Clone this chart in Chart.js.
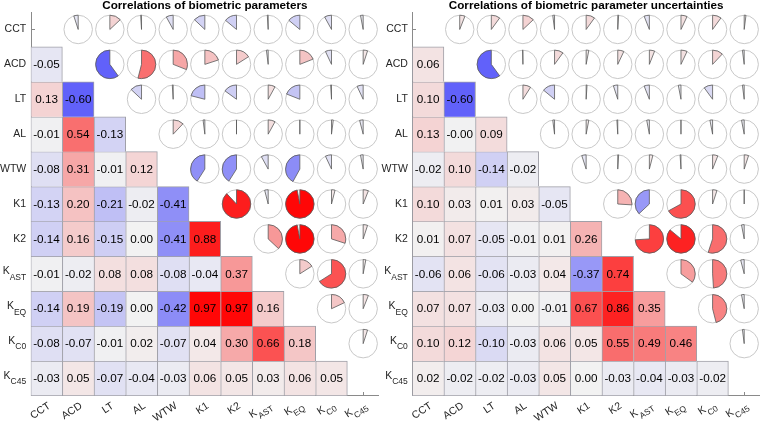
<!DOCTYPE html>
<html><head><meta charset="utf-8">
<script src="https://cdn.jsdelivr.net/npm/chart.js@4/dist/chart.umd.min.js"></script>
<style>
html,body{margin:0;padding:0;background:#fff;}
#wrap{position:relative;width:760px;height:424px;overflow:hidden;}
canvas{position:absolute;top:0;}
</style></head><body>
<div id="wrap">
<canvas id="c1" width="380" height="424" style="left:0px"></canvas>
<canvas id="c2" width="380" height="424" style="left:380px"></canvas>
</div>
<script>
// Parameter names (underscore marks a subscript)
const params = ['CCT','ACD','LT','AL','WTW','K1','K2','K_AST','K_EQ','K_C0','K_C45'];

// Lower-triangle correlation rows (row i holds columns 0..i-1)
const corrBiometric = [
  [],
  [-0.05],
  [0.13, -0.60],
  [-0.01, 0.54, -0.13],
  [-0.08, 0.31, -0.01, 0.12],
  [-0.13, 0.20, -0.21, -0.02, -0.41],
  [-0.14, 0.16, -0.15, 0.00, -0.41, 0.88],
  [-0.01, -0.02, 0.08, 0.08, -0.08, -0.04, 0.37],
  [-0.14, 0.19, -0.19, 0.00, -0.42, 0.97, 0.97, 0.16],
  [-0.08, -0.07, -0.01, 0.02, -0.07, 0.04, 0.30, 0.66, 0.18],
  [-0.03, 0.05, -0.07, -0.04, -0.03, 0.06, 0.05, 0.03, 0.06, 0.05]
];
const corrUncertainty = [
  [],
  [0.06],
  [0.10, -0.60],
  [0.13, -0.004, 0.09],
  [-0.02, 0.10, -0.14, -0.02],
  [0.10, 0.03, 0.01, 0.03, -0.05],
  [0.01, 0.07, -0.05, -0.01, 0.01, 0.26],
  [-0.06, 0.06, -0.06, -0.03, 0.04, -0.37, 0.74],
  [0.07, 0.07, -0.03, 0.00, -0.01, 0.67, 0.86, 0.35],
  [0.10, 0.12, -0.10, -0.03, 0.06, 0.05, 0.55, 0.49, 0.46],
  [0.02, -0.02, -0.02, -0.03, 0.05, 0.00, -0.03, -0.04, -0.03, -0.02]
];
const titles = ['Correlations of biometric parameters', 'Correlations of biometric parameter uncertainties'];

const FONT = "'Liberation Sans', Arial, Helvetica, sans-serif";

function colorFor(r){
  const t = Math.min(1, Math.abs(r)), g = 242;
  const hi = Math.round(g + (255-g)*t), lo = Math.round(g*(1-t));
  return r >= 0 ? `rgb(${hi},${lo},${lo})` : `rgb(${lo},${lo},${hi})`;
}
function corrAt(M,i,j){ return i>j ? M[i][j] : M[j][i]; }

function drawLabel(ctx, name, x, y, align){
  const parts = name.split('_');
  ctx.font = `10.5px ${FONT}`;
  const wMain = ctx.measureText(parts[0]).width;
  let wSub = 0;
  if(parts[1]){ ctx.font = `8.5px ${FONT}`; wSub = ctx.measureText(parts[1]).width; }
  const W = wMain + wSub;
  const x0 = align === 'right' ? x - W : x - W/2;
  ctx.textAlign = 'left'; ctx.textBaseline = 'middle';
  ctx.font = `10.5px ${FONT}`;
  ctx.fillText(parts[0], x0, parts[1] ? y - 2.5 : y);
  if(parts[1]){ ctx.font = `8.5px ${FONT}`; ctx.fillText(parts[1], x0 + wMain, y + 3.5); }
}

function makePlugin(M){
  return {
    id: 'corrDecor',
    beforeDatasetsDraw(chart){
      const {ctx, chartArea:a, scales:{x, y}} = chart;
      ctx.save();
      ctx.strokeStyle = '#8a8a8a'; ctx.lineWidth = 1;
      const lx = Math.round(a.left)+0.5, by = Math.round(a.bottom)-0.5;
      ctx.beginPath();
      ctx.moveTo(lx, a.top); ctx.lineTo(lx, by);
      ctx.lineTo(a.right, by);
      for(let i=0;i<params.length;i++){
        const py = Math.round(y.getPixelForValue(i))+0.5;
        ctx.moveTo(lx, py); ctx.lineTo(lx+3.5, py);
        const px = Math.round(x.getPixelForValue(i))+0.5;
        ctx.moveTo(px, by); ctx.lineTo(px, by-3.5);
      }
      ctx.stroke();
      ctx.restore();
    },
    afterDatasetsDraw(chart){
      const {ctx, chartArea:a, scales:{x, y}} = chart;
      const n = params.length;
      ctx.save();
      // values in cells
      ctx.fillStyle = '#000';
      ctx.font = `11.7px ${FONT}`;
      ctx.textAlign = 'center'; ctx.textBaseline = 'middle';
      for(let i=1;i<n;i++) for(let j=0;j<i;j++){
        ctx.fillText(M[i][j].toFixed(2), x.getPixelForValue(j), y.getPixelForValue(i)+0.5);
      }
      // pies in the upper triangle
      const colW = Math.abs(x.getPixelForValue(1) - x.getPixelForValue(0));
      const R = colW*0.45;
      for(let i=0;i<n;i++) for(let j=i+1;j<n;j++){
        const r = corrAt(M,i,j);
        const cx = x.getPixelForValue(j), cy = y.getPixelForValue(i);
        ctx.beginPath(); ctx.arc(cx, cy, R, 0, Math.PI*2);
        ctx.fillStyle = '#fff'; ctx.fill();
        ctx.strokeStyle = '#c8c8c8'; ctx.lineWidth = 1; ctx.stroke();
        const a0 = -Math.PI/2, a1 = a0 + (r>=0 ? 1 : -1)*2*Math.PI*Math.abs(r);
        ctx.beginPath(); ctx.moveTo(cx, cy); ctx.lineTo(cx, cy-R);
        ctx.arc(cx, cy, R, a0, a1, r<0); ctx.closePath();
        ctx.fillStyle = colorFor(r); ctx.fill();
        ctx.strokeStyle = '#5a5a5a'; ctx.lineWidth = 0.8; ctx.stroke();
      }
      // axis labels
      ctx.fillStyle = '#262626';
      for(let i=0;i<n;i++) drawLabel(ctx, params[i], a.left-4.5, y.getPixelForValue(i), 'right');
      for(let j=0;j<n;j++){
        ctx.save();
        ctx.translate(x.getPixelForValue(j)+3, a.bottom+9);
        ctx.rotate(-33*Math.PI/180);
        drawLabel(ctx, params[j], 0, 0, 'right');
        ctx.restore();
      }
      ctx.restore();
    }
  };
}

function makeChart(id, M, title, padL, padR){
  const n = params.length;
  const datasets = [];
  for(let i=1;i<n;i++){
    const data = [], bg = [];
    for(let j=0;j<n;j++){
      if(j<i){ data.push([i-0.5, i+0.5]); bg.push(colorFor(M[i][j])); }
      else { data.push(null); bg.push('rgba(0,0,0,0)'); }
    }
    datasets.push({
      label: params[i], data, backgroundColor: bg, borderColor: '#a0a0a8',
      borderWidth: (c) => ({left:1, top:1, right: c.dataIndex===i-1 ? 1 : 0, bottom: i===n-1 ? 1 : 0}),
      borderSkipped: false, grouped: false, categoryPercentage: 1, barPercentage: 1
    });
  }
  return new Chart(document.getElementById(id), {
    type: 'bar',
    data: { labels: params, datasets },
    options: {
      responsive: false, animation: false, devicePixelRatio: 1,
      layout: { padding: { left: padL, right: padR, top: 0, bottom: 28 } },
      scales: {
        x: { type: 'category', display: false, offset: true },
        y: { type: 'linear', display: false, min: -0.5, max: 10.5, reverse: true }
      },
      plugins: {
        legend: { display: false }, tooltip: { enabled: false },
        title: { display: true, text: title, color: '#000',
          font: { family: FONT, size: 11.7, weight: 'bold', lineHeight: 1 },
          padding: { top: 0, bottom: 0.3 } }
      }
    },
    plugins: [makePlugin(M)]
  });
}

makeChart('c1', corrBiometric, titles[0], 30.7, 1);
makeChart('c2', corrUncertainty, titles[1], 32.3, 0);
</script>
</body></html>
